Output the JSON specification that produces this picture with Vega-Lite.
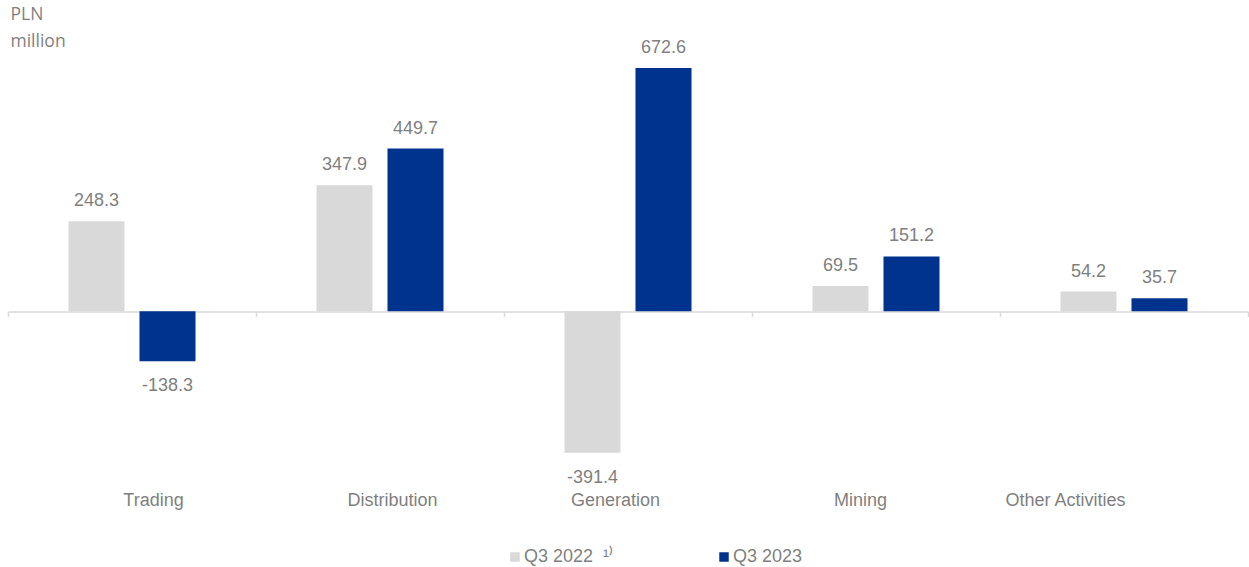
{
  "$schema": "https://vega.github.io/schema/vega-lite/v6.json",
  "width": 1240,
  "height": 434,
  "autosize": "none",
  "padding": {"left": 8, "top": 58, "right": 1, "bottom": 75},
  "background": "white",
  "config": {"view": {"stroke": null}, "font": "Liberation Sans", "locale": {"number": {"decimal": ".", "thousands": ",", "grouping": [3], "currency": ["", ""], "minus": "-"}}},
  "data": {
    "values": [
      {"segment": "Trading", "period": "Q3 2022\u00a0\u00a0¹⁾", "value": 248.3},
      {"segment": "Trading", "period": "Q3 2023", "value": -138.3},
      {"segment": "Distribution", "period": "Q3 2022\u00a0\u00a0¹⁾", "value": 347.9},
      {"segment": "Distribution", "period": "Q3 2023", "value": 449.7},
      {"segment": "Generation", "period": "Q3 2022\u00a0\u00a0¹⁾", "value": -391.4},
      {"segment": "Generation", "period": "Q3 2023", "value": 672.6},
      {"segment": "Mining", "period": "Q3 2022\u00a0\u00a0¹⁾", "value": 69.5},
      {"segment": "Mining", "period": "Q3 2023", "value": 151.2},
      {"segment": "Other Activities", "period": "Q3 2022\u00a0\u00a0¹⁾", "value": 54.2},
      {"segment": "Other Activities", "period": "Q3 2023", "value": 35.7}
    ]
  },
  "encoding": {
    "x": {
      "field": "segment",
      "type": "nominal",
      "sort": null,
      "scale": {"paddingInner": 0, "paddingOuter": 0},
      "axis": {
        "title": null,
        "labelAngle": 0,
        "offset": -180.5,
        "domainColor": "#d9d9d9",
        "domainWidth": 1.5,
        "tickColor": "#d9d9d9",
        "tickWidth": 1.5,
        "tickSize": 5,
        "tickBand": "extent",
        "labelPadding": 175,
        "labelFontSize": 18,
        "labelColor": "#7f7f7f",
        "labelFont": "Liberation Sans",
        "labelOffset": {
          "condition": [
            {"test": "datum.value == 'Trading'", "value": 21},
            {"test": "datum.value == 'Distribution'", "value": 12},
            {"test": "datum.value == 'Generation'", "value": -13},
            {"test": "datum.value == 'Mining'", "value": -16}
          ],
          "value": -59
        }
      }
    },
    "xOffset": {
      "field": "period",
      "type": "nominal",
      "scale": {"paddingInner": 0.211, "paddingOuter": 0.852}
    },
    "y": {
      "field": "value",
      "type": "quantitative",
      "scale": {"domain": [-500, 700], "nice": false, "zero": true},
      "axis": {
        "title": ["PLN", "million"],
        "titleAngle": 0,
        "titleAlign": "left",
        "titleBaseline": "top",
        "titleX": 2,
        "titleY": -53,
        "titleFont": "Open Sans",
        "titleFontSize": 17.5,
        "titleFontWeight": "normal",
        "titleColor": "#7f7f7f",
        "titleLineHeight": 27,
        "labels": false,
        "ticks": false,
        "domain": false,
        "grid": false
      }
    }
  },
  "layer": [
    {
      "mark": {"type": "bar"},
      "encoding": {
        "color": {
          "field": "period",
          "type": "nominal",
          "scale": {"domain": ["Q3 2022\u00a0\u00a0¹⁾", "Q3 2023"], "range": ["#d9d9d9", "#00338d"]},
          "legend": {
            "title": null,
            "orient": "none",
            "legendX": 498,
            "legendY": 490,
            "direction": "horizontal",
            "symbolType": "square",
            "symbolSize": 90,
            "symbolStrokeWidth": 0,
            "labelFontSize": 18,
            "labelColor": "#7f7f7f",
            "labelFont": "Liberation Sans",
            "labelOffset": 0,
            "columnPadding": 101
          }
        }
      }
    },
    {
      "transform": [{"filter": "datum.value >= 0"}],
      "mark": {"type": "text", "baseline": "alphabetic", "dy": -15, "fontSize": 18, "color": "#7f7f7f"},
      "encoding": {"text": {"field": "value", "type": "quantitative", "format": ".1f"}}
    },
    {
      "transform": [{"filter": "datum.value < 0"}],
      "mark": {"type": "text", "baseline": "top", "dy": 16, "fontSize": 18, "color": "#7f7f7f"},
      "encoding": {"text": {"field": "value", "type": "quantitative", "format": ".1f"}}
    }
  ]
}
